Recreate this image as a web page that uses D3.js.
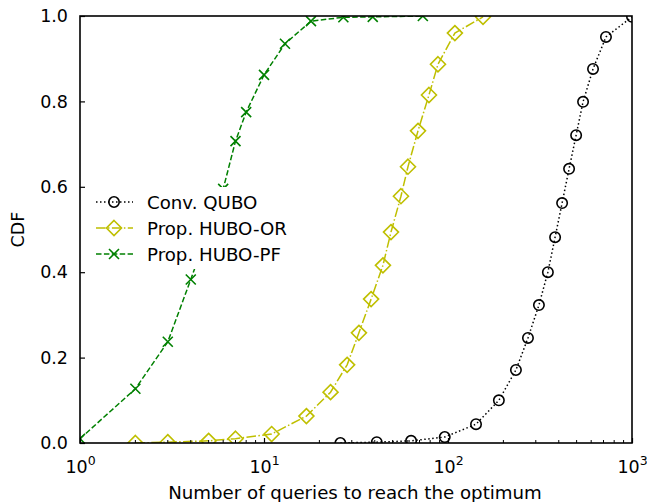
<!DOCTYPE html>
<html>
<head>
<meta charset="utf-8">
<script src="https://d3js.org/d3.v7.min.js"></script>
<style>
  body { margin: 0; background: #fff; }
  text { font-family: "DejaVu Sans", sans-serif; }
</style>
</head>
<body>
<div id="chart"></div>
<script>
// DATA
const quboX = [26, 41, 63, 96, 142, 189, 234, 272, 312, 349, 382, 417, 455, 497, 542, 614, 722, 1000];
const quboY = [0.0, 0.002, 0.005, 0.014, 0.044, 0.10, 0.171, 0.246, 0.323, 0.40, 0.482, 0.562, 0.642, 0.721, 0.799, 0.876, 0.951, 0.998];

const orX = [2, 3, 5, 7, 11, 17, 23, 28.3, 32.8, 38.2, 44.3, 49, 55.5, 60.6, 68.7, 78.8, 88.2, 109, 155];
const orY = [0.0, 0.002, 0.005, 0.01, 0.021, 0.063, 0.119, 0.183, 0.258, 0.337, 0.416, 0.494, 0.578, 0.647, 0.731, 0.815, 0.887, 0.96, 0.998];

const pfX = [1, 2, 3, 4, 6, 7, 8, 10, 13, 18, 27, 39, 73];
const pfY = [0.01, 0.127, 0.237, 0.383, 0.595, 0.707, 0.775, 0.862, 0.935, 0.988, 0.997, 0.998, 1.0];

const yTicks = [0, 0.2, 0.4, 0.6, 0.8, 1.0];
const xTicks = [1, 10, 100, 1000];
const seriesNames = ["Conv. QUBO", "Prop. HUBO-OR", "Prop. HUBO-PF"];

// LAYOUT
const W = 647, H = 502;
const margin = { top: 16, right: 15, bottom: 59, left: 80 };
const width = W - margin.left - margin.right,
      height = H - margin.top - margin.bottom;

const svg = d3.select("#chart").append("svg")
  .attr("width", W).attr("height", H);

const g = svg.append("g")
  .attr("transform", "translate(" + margin.left + "," + margin.top + ")");

const x = d3.scaleLog().domain([1, 1000]).range([0, width]);
const y = d3.scaleLinear().domain([0, 1]).range([height, 0]);

svg.append("defs").append("clipPath").attr("id", "plotclip")
  .append("rect").attr("width", width).attr("height", height);

const series = [
  { name: seriesNames[0], xs: quboX, ys: quboY, color: "#000000", dash: "1.5,2.5", marker: "circle" },
  { name: seriesNames[1], xs: orX, ys: orY, color: "#bfbf00", dash: "9.6,2.4,1.5,2.4", marker: "diamond" },
  { name: seriesNames[2], xs: pfX, ys: pfY, color: "#008000", dash: "5.5,2.4", marker: "x" }
];

const line = d3.line().x(d => x(d[0])).y(d => y(d[1]));

function drawMarker(sel, type, color) {
  if (type === "circle") {
    sel.append("circle").attr("r", 5.2)
      .attr("fill", "none").attr("stroke", color).attr("stroke-width", 1.6);
  } else if (type === "diamond") {
    sel.append("path").attr("d", "M0,-7.5L7.5,0L0,7.5L-7.5,0Z")
      .attr("fill", "none").attr("stroke", color).attr("stroke-width", 1.6);
  } else {
    sel.append("path").attr("d", "M-5,-5L5,5M-5,5L5,-5")
      .attr("fill", "none").attr("stroke", color).attr("stroke-width", 1.6);
  }
}

const plot = g.append("g").attr("clip-path", "url(#plotclip)");

series.forEach(s => {
  const pts = s.xs.map((v, i) => [v, s.ys[i]]);
  plot.append("path").datum(pts)
    .attr("d", line)
    .attr("fill", "none")
    .attr("stroke", s.color)
    .attr("stroke-width", 1.5)
    .attr("stroke-dasharray", s.dash);
  plot.selectAll(null).data(pts).enter().append("g")
    .attr("transform", d => "translate(" + x(d[0]) + "," + y(d[1]) + ")")
    .each(function () { drawMarker(d3.select(this), s.marker, s.color); });
});

// LEGEND (white box covers the curve behind it)
const legend = g.append("g").attr("transform", "translate(6,171)");
legend.append("rect").attr("width", 212).attr("height", 82).attr("fill", "#fff");
series.forEach((s, i) => {
  const row = legend.append("g").attr("transform", "translate(0," + (15 + i * 26) + ")");
  row.append("line").attr("x1", 10).attr("x2", 47)
    .attr("stroke", s.color).attr("stroke-width", 1.5)
    .attr("stroke-dasharray", s.dash);
  const m = row.append("g").attr("transform", "translate(28,0)");
  drawMarker(m, s.marker, s.color);
  row.append("text").attr("x", 61).attr("y", 6.5)
    .attr("font-size", 18.2).text(s.name);
});

// AXES
const yAxis = g.append("g")
  .call(d3.axisLeft(y).tickValues(yTicks).tickSize(-5).tickPadding(12).tickFormat(d3.format(".1f")));
const xAxis = g.append("g").attr("transform", "translate(0," + height + ")")
  .call(d3.axisBottom(x).tickValues(xTicks).tickSize(-5).tickPadding(12).tickFormat(() => ""));

// minor x ticks
const minor = [];
[1, 10, 100].forEach(b => { for (let k = 2; k <= 9; k++) minor.push(b * k); });
g.append("g").selectAll("line").data(minor).enter().append("line")
  .attr("x1", d => x(d)).attr("x2", d => x(d))
  .attr("y1", height).attr("y2", height - 3)
  .attr("stroke", "#000").attr("stroke-width", 1);

[yAxis, xAxis].forEach(a => {
  a.select(".domain").remove();
  a.selectAll(".tick line").attr("stroke", "#000").attr("stroke-width", 1.2);
  a.selectAll("text").attr("font-size", 17.5).attr("fill", "#000")
    .attr("font-family", "DejaVu Sans, sans-serif");
});

// x tick labels as 10^n
xAxis.selectAll(".tick").each(function (d) {
  const t = d3.select(this).select("text").attr("y", 30).attr("dy", null);
  t.append("tspan").text("10");
  t.append("tspan").attr("dy", -8).attr("font-size", 12.5).text(Math.round(Math.log10(d)));
});

// frame
g.append("rect").attr("width", width).attr("height", height)
  .attr("fill", "none").attr("stroke", "#000").attr("stroke-width", 1.6);

// axis titles
svg.append("text")
  .attr("x", margin.left + width / 2 - 1).attr("y", 499)
  .attr("text-anchor", "middle").attr("font-size", 18.2)
  .text("Number of queries to reach the optimum");
svg.append("text")
  .attr("transform", "translate(24," + (margin.top + height / 2) + ") rotate(-90)")
  .attr("text-anchor", "middle").attr("font-size", 17.5)
  .text("CDF");
</script>
</body>
</html>
